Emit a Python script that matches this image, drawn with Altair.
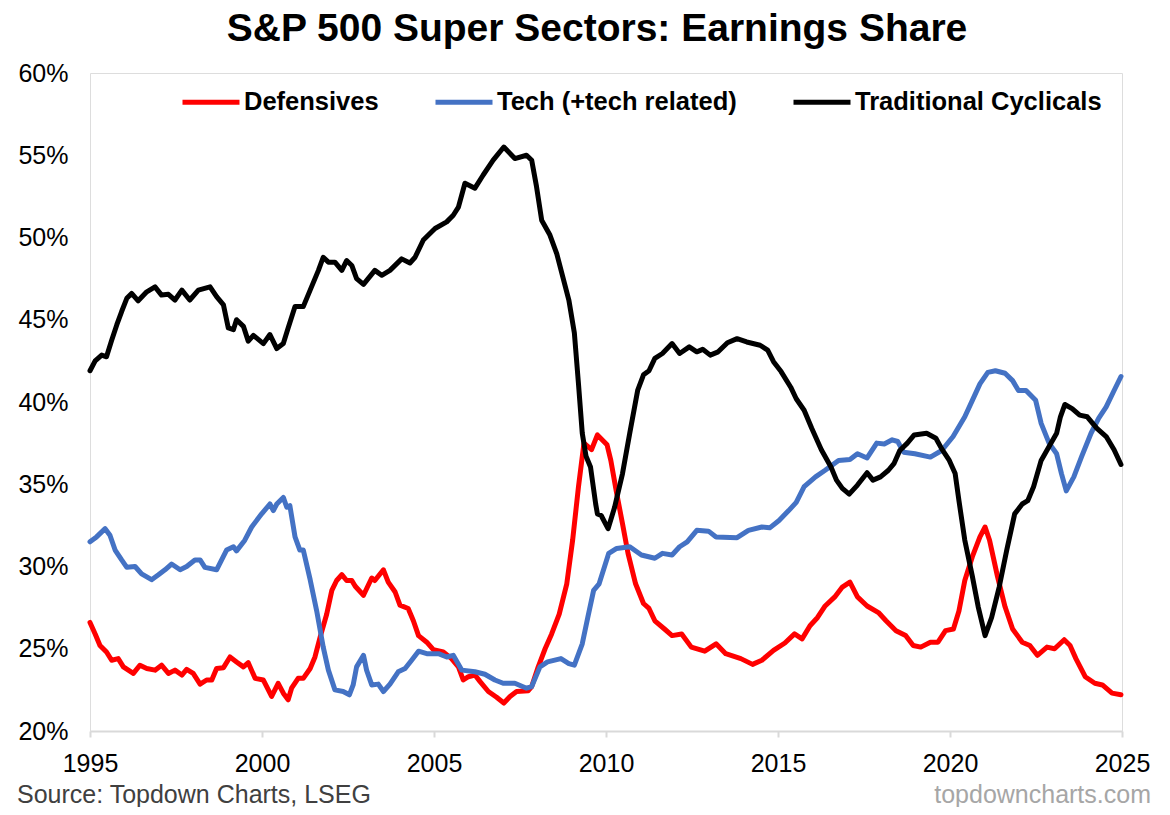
import altair as alt
import pandas as pd

# ---------------- data ----------------
def_years = [1995.0, 1995.15, 1995.29, 1995.48, 1995.63, 1995.82, 1995.97, 1996.26, 1996.45, 1996.65,
             1996.89, 1997.08, 1997.28, 1997.47, 1997.67, 1997.81, 1998.0, 1998.2, 1998.39, 1998.54,
             1998.68, 1998.88, 1999.07, 1999.26, 1999.46, 1999.6, 1999.8, 2000.04, 2000.28, 2000.47,
             2000.62, 2000.76, 2000.86, 2001.05, 2001.2, 2001.4, 2001.54, 2001.69, 2001.88, 2002.03,
             2002.17, 2002.32, 2002.46, 2002.61, 2002.71, 2002.95, 2003.19, 2003.28, 2003.53, 2003.67,
             2003.87, 2004.01, 2004.25, 2004.4, 2004.55, 2004.79, 2004.98, 2005.27, 2005.51, 2005.71,
             2005.85, 2006.0, 2006.19, 2006.34, 2006.58, 2006.82, 2007.03, 2007.21, 2007.4, 2007.74,
             2007.84, 2008.03, 2008.23, 2008.42, 2008.64, 2008.86, 2009.03, 2009.2, 2009.36, 2009.58,
             2009.75, 2010.03, 2010.14, 2010.31, 2010.48, 2010.64, 2010.86, 2011.09, 2011.25, 2011.42,
             2011.7, 2011.92, 2012.2, 2012.48, 2012.87, 2013.2, 2013.48, 2013.92, 2014.26, 2014.53,
             2014.87, 2015.2, 2015.48, 2015.7, 2015.93, 2016.15, 2016.37, 2016.65, 2016.87, 2017.09,
             2017.31, 2017.59, 2017.92, 2018.14, 2018.43, 2018.71, 2018.93, 2019.15, 2019.43, 2019.65,
             2019.87, 2020.1, 2020.26, 2020.43, 2020.65, 2020.87, 2021.02, 2021.15, 2021.38, 2021.6,
             2021.82, 2022.1, 2022.32, 2022.54, 2022.82, 2023.04, 2023.32, 2023.49, 2023.66, 2023.93,
             2024.21, 2024.43, 2024.71, 2024.97]
def_vals = [26.6, 25.9, 25.2, 24.8, 24.3, 24.4, 23.9, 23.5, 24.0, 23.8,
            23.7, 24.0, 23.5, 23.7, 23.4, 23.75, 23.5, 22.85, 23.1, 23.1,
            23.8, 23.85, 24.5, 24.2, 23.9, 24.15, 23.2, 23.1, 22.1, 22.9,
            22.3, 21.9, 22.6, 23.2, 23.2, 23.8, 24.5, 25.7, 27.1, 28.55,
            29.15, 29.5, 29.15, 29.15, 28.8, 28.25, 29.3, 29.15, 29.8, 29.05,
            28.45, 27.65, 27.45, 26.7, 25.8, 25.4, 24.95, 24.8, 24.4, 23.9,
            23.1, 23.3, 23.4, 23.0, 22.4, 22.05, 21.7, 22.1, 22.4, 22.45,
            22.7, 23.9, 25.0, 25.9, 27.1, 28.95, 31.6, 34.85, 37.5, 37.1,
            38.0, 37.4, 36.45, 34.45, 32.6, 30.8, 28.95, 27.75, 27.45, 26.7,
            26.2, 25.8, 25.9, 25.1, 24.85, 25.3, 24.7, 24.4, 24.05, 24.3,
            24.9, 25.35, 25.9, 25.6, 26.4, 26.9, 27.6, 28.15, 28.75, 29.05,
            28.15, 27.6, 27.2, 26.7, 26.1, 25.8, 25.2, 25.1, 25.4, 25.4,
            26.1, 26.2, 27.3, 29.15, 30.6, 31.8, 32.4, 31.6, 29.4, 27.55,
            26.2, 25.4, 25.2, 24.6, 25.1, 25.0, 25.55, 25.2, 24.4, 23.3,
            22.9, 22.8, 22.3, 22.2]

tech_years = [1995.0, 1995.19, 1995.44, 1995.58, 1995.73, 1995.92, 1996.07, 1996.31, 1996.5, 1996.79,
              1996.99, 1997.18, 1997.37, 1997.62, 1997.81, 1998.05, 1998.2, 1998.34, 1998.68, 1998.97,
              1999.17, 1999.26, 1999.5, 1999.7, 1999.99, 2000.23, 2000.33, 2000.43, 2000.62, 2000.72,
              2000.81, 2000.96, 2001.1, 2001.2, 2001.4, 2001.59, 2001.78, 2001.93, 2002.12, 2002.36,
              2002.54, 2002.65, 2002.75, 2002.95, 2003.04, 2003.19, 2003.38, 2003.53, 2003.72, 2003.96,
              2004.16, 2004.35, 2004.55, 2004.79, 2005.13, 2005.37, 2005.56, 2005.81, 2006.19, 2006.48,
              2006.77, 2007.01, 2007.35, 2007.69, 2007.84, 2008.08, 2008.3, 2008.69, 2008.92, 2009.08,
              2009.31, 2009.47, 2009.64, 2009.8, 2010.08, 2010.31, 2010.69, 2011.03, 2011.42, 2011.64,
              2011.92, 2012.14, 2012.36, 2012.64, 2012.98, 2013.2, 2013.81, 2014.14, 2014.53, 2014.76,
              2015.03, 2015.31, 2015.53, 2015.76, 2016.09, 2016.37, 2016.76, 2017.09, 2017.31, 2017.59,
              2017.87, 2018.09, 2018.32, 2018.48, 2018.65, 2018.98, 2019.43, 2019.76, 2020.09, 2020.43,
              2020.65, 2020.87, 2021.1, 2021.32, 2021.6, 2021.82, 2021.99, 2022.21, 2022.49, 2022.65,
              2022.88, 2023.1, 2023.24, 2023.38, 2023.6, 2023.82, 2024.1, 2024.32, 2024.54, 2024.77,
              2024.97]
tech_vals = [31.5, 31.8, 32.3, 31.9, 31.0, 30.4, 29.95, 30.0, 29.55, 29.2,
             29.5, 29.8, 30.15, 29.8, 30.0, 30.4, 30.4, 29.95, 29.8, 31.0,
             31.2, 30.95, 31.6, 32.4, 33.2, 33.8, 33.4, 33.8, 34.2, 33.6,
             33.7, 31.8, 31.0, 31.0, 29.2, 27.3, 25.1, 23.7, 22.5, 22.4,
             22.2, 22.8, 23.9, 24.6, 23.7, 22.8, 22.85, 22.4, 22.85, 23.6,
             23.8, 24.3, 24.85, 24.7, 24.7, 24.5, 24.6, 23.7, 23.6, 23.45,
             23.1, 22.9, 22.9, 22.6, 22.7, 23.9, 24.2, 24.4, 24.1, 24.0,
             25.3, 26.9, 28.55, 28.95, 30.8, 31.1, 31.2, 30.7, 30.5, 30.8,
             30.7, 31.2, 31.5, 32.2, 32.15, 31.8, 31.75, 32.2, 32.4, 32.35,
             32.8, 33.4, 33.9, 34.85, 35.45, 35.85, 36.45, 36.5, 36.85, 36.6,
             37.5, 37.45, 37.7, 37.6, 36.95, 36.85, 36.65, 37.05, 37.9, 39.1,
             40.1, 41.1, 41.8, 41.9, 41.75, 41.3, 40.7, 40.7, 40.1, 38.7,
             37.5, 36.85, 35.65, 34.6, 35.45, 36.65, 38.1, 39.0, 39.7, 40.7,
             41.55]

cyc_years = [1995.0, 1995.15, 1995.34, 1995.48, 1995.63, 1995.78, 1995.92, 1996.07, 1996.21, 1996.4,
             1996.65, 1996.89, 1997.08, 1997.28, 1997.47, 1997.67, 1997.9, 1998.15, 1998.49, 1998.68,
             1998.88, 1999.02, 1999.17, 1999.26, 1999.46, 1999.6, 1999.75, 2000.04, 2000.23, 2000.43,
             2000.62, 2000.76, 2000.96, 2001.2, 2001.4, 2001.64, 2001.78, 2001.93, 2002.12, 2002.32,
             2002.46, 2002.61, 2002.75, 2002.95, 2003.28, 2003.48, 2003.72, 2004.06, 2004.3, 2004.45,
             2004.69, 2005.03, 2005.37, 2005.56, 2005.71, 2005.9, 2006.19, 2006.43, 2006.72, 2007.03,
             2007.35, 2007.69, 2007.84, 2007.98, 2008.13, 2008.37, 2008.57, 2008.92, 2009.08, 2009.2,
             2009.31, 2009.42, 2009.55, 2009.7, 2009.75, 2009.86, 2010.06, 2010.25, 2010.48, 2010.69,
             2010.92, 2011.09, 2011.25, 2011.42, 2011.64, 2011.92, 2012.14, 2012.42, 2012.64, 2012.81,
             2013.03, 2013.26, 2013.53, 2013.81, 2014.09, 2014.48, 2014.7, 2014.87, 2015.09, 2015.37,
             2015.53, 2015.76, 2015.98, 2016.26, 2016.54, 2016.7, 2016.87, 2017.07, 2017.31, 2017.59,
             2017.76, 2017.98, 2018.21, 2018.37, 2018.54, 2018.76, 2018.96, 2019.32, 2019.59, 2019.76,
             2019.98, 2020.15, 2020.26, 2020.43, 2020.65, 2020.82, 2021.02, 2021.21, 2021.43, 2021.65,
             2021.88, 2022.1, 2022.26, 2022.43, 2022.65, 2022.88, 2023.1, 2023.21, 2023.34, 2023.55,
             2023.77, 2023.99, 2024.27, 2024.54, 2024.77, 2024.97]
cyc_vals = [41.9, 42.5, 42.85, 42.75, 43.75, 44.7, 45.5, 46.3, 46.6, 46.15,
            46.7, 47.0, 46.5, 46.55, 46.2, 46.8, 46.2, 46.8, 47.0, 46.4,
            45.9, 44.5, 44.4, 45.0, 44.6, 43.7, 44.05, 43.55, 44.1, 43.25,
            43.55, 44.5, 45.8, 45.8, 46.8, 48.0, 48.8, 48.5, 48.5, 48.0,
            48.6, 48.3, 47.5, 47.15, 48.0, 47.7, 48.0, 48.7, 48.45, 48.8,
            49.85, 50.55, 50.95, 51.35, 51.85, 53.3, 53.0, 53.8, 54.7, 55.5,
            54.8, 55.0, 54.7, 53.1, 51.05, 50.15, 49.0, 46.2, 44.2, 41.1,
            38.1, 36.7, 36.05, 33.8, 33.2, 33.1, 32.3, 33.6, 35.65, 38.1,
            40.7, 41.65, 41.9, 42.65, 42.95, 43.55, 42.95, 43.35, 43.05, 43.2,
            42.85, 43.05, 43.6, 43.85, 43.65, 43.45, 43.15, 42.45, 41.85, 40.9,
            40.2, 39.5, 38.4, 37.1, 36.05, 35.25, 34.75, 34.4, 34.95, 35.7,
            35.25, 35.45, 35.85, 36.25, 37.05, 37.5, 38.0, 38.1, 37.8, 37.15,
            36.45, 35.65, 34.0, 31.6, 29.4, 27.55, 25.8, 26.9, 28.75, 31.0,
            33.2, 33.8, 34.0, 34.85, 36.45, 37.3, 38.1, 39.1, 39.85, 39.6,
            39.2, 39.1, 38.4, 37.9, 37.1, 36.2]

series_names = ["Defensives", "Tech (+tech related)", "Traditional Cyclicals"]
series_colors = ["#FF0000", "#4472C4", "#000000"]
x_ticks = [1995, 2000, 2005, 2010, 2015, 2020, 2025]
y_ticks = [20, 25, 30, 35, 40, 45, 50, 55, 60]

title_text = "S&P 500 Super Sectors: Earnings Share"
source_text = "Source: Topdown Charts, LSEG"
brand_text = "topdowncharts.com"

# ---------------- build table ----------------
frames = []
for name, yrs, vals in zip(series_names, [def_years, tech_years, cyc_years],
                           [def_vals, tech_vals, cyc_vals]):
    frames.append(pd.DataFrame({"year": yrs, "share": vals, "series": name}))
df = pd.concat(frames, ignore_index=True)
df["order"] = df["series"].map({n: i for i, n in enumerate(series_names)})

FONT = "Liberation Sans"
W, H = 1032, 658

lines = alt.Chart(df).mark_line(strokeWidth=5, strokeJoin="round", strokeCap="round").encode(
    x=alt.X("year:Q",
            scale=alt.Scale(domain=[1995, 2025], nice=False, zero=False),
            axis=alt.Axis(values=x_ticks, format="d", title=None, grid=False,
                          labelFontSize=25, labelFont=FONT, labelColor="#000000",
                          domainColor="#D9D9D9", domainWidth=2, tickColor="#D9D9D9",
                          tickWidth=2, tickSize=6, labelPadding=14, labelFlush=False,
                          labelOverlap=False)),
    y=alt.Y("share:Q",
            scale=alt.Scale(domain=[20, 60], nice=False, zero=False),
            axis=alt.Axis(values=y_ticks, labelExpr="datum.value + '%'", title=None,
                          grid=False, domain=False, ticks=False, labelFontSize=25,
                          labelFont=FONT, labelColor="#000000", labelPadding=22)),
    color=alt.Color("series:N",
                    scale=alt.Scale(domain=series_names, range=series_colors),
                    legend=alt.Legend(title=None, orient="none", direction="horizontal",
                                      legendX=90, legendY=-2, symbolType="stroke",
                                      symbolStrokeWidth=5, symbolSize=3249,
                                      labelFontSize=25.5, labelFont=FONT,
                                      labelFontWeight="bold", labelColor="#000000",
                                      labelOffset=2, labelLimit=0, columnPadding=46)),
    order=alt.Order("order:Q"),
    detail="series:N",
)

src_df = pd.DataFrame({"t": [source_text]})
brand_df = pd.DataFrame({"t": [brand_text]})

source = alt.Chart(src_df).mark_text(align="left", baseline="middle", fontSize=25,
                                     font=FONT, color="#404040").encode(
    x=alt.value(-73), y=alt.value(722), text="t:N")
brand = alt.Chart(brand_df).mark_text(align="right", baseline="middle", fontSize=25,
                                      font=FONT, color="#A6A6A6").encode(
    x=alt.value(1061), y=alt.value(722), text="t:N")

chart = alt.layer(lines, source, brand).properties(
    width=W, height=H,
    title=alt.TitleParams(title_text, fontSize=39, font=FONT, fontWeight="bold",
                          color="#000000", anchor="middle", frame="group", dx=-9, offset=12),
    autosize=alt.AutoSizeParams(type="none"),
    padding={"left": 82, "top": 65, "right": 40, "bottom": 76},
).configure_view(stroke=None).configure(background="#FFFFFF")

chart.save("out.html", embed_options={"renderer": "svg", "actions": False})
